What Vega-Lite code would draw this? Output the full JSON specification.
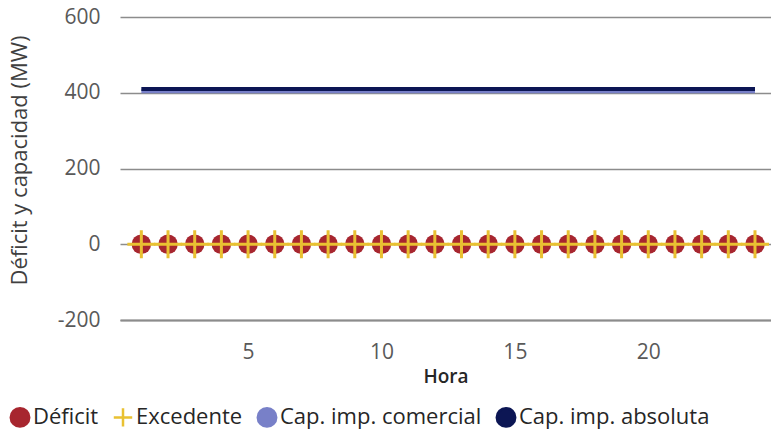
{
  "$schema": "https://vega.github.io/schema/vega-lite/v6.json",
  "autosize": {"type": "none"},
  "width": 651,
  "height": 303,
  "padding": {"left": 120, "top": 17, "right": 0, "bottom": 113},
  "background": "white",
  "config": {
    "view": {"stroke": null},
    "font": "Open Sans",
    "axis": {
      "labelFont": "Open Sans",
      "titleFont": "Open Sans",
      "labelColor": "#595959",
      "titleColor": "#404040",
      "labelFontSize": 21,
      "gridColor": "#8c8c8c",
      "gridWidth": 1.3,
      "ticks": false,
      "domain": false
    },
    "legend": {
      "labelFont": "Open Sans",
      "labelFontSize": 22,
      "labelColor": "#262626",
      "labelLimit": 0,
      "symbolSize": 340,
      "symbolStrokeWidth": 2.5,
      "columnPadding": 9,
      "labelOffset": 2,
      "symbolOpacity": 1
    }
  },
  "data": {
    "values": [
      {"Hora": 1, "serie": "Déficit", "MW": 0}, {"Hora": 2, "serie": "Déficit", "MW": 0}, {"Hora": 3, "serie": "Déficit", "MW": 0}, {"Hora": 4, "serie": "Déficit", "MW": 0},
      {"Hora": 5, "serie": "Déficit", "MW": 0}, {"Hora": 6, "serie": "Déficit", "MW": 0}, {"Hora": 7, "serie": "Déficit", "MW": 0}, {"Hora": 8, "serie": "Déficit", "MW": 0},
      {"Hora": 9, "serie": "Déficit", "MW": 0}, {"Hora": 10, "serie": "Déficit", "MW": 0}, {"Hora": 11, "serie": "Déficit", "MW": 0}, {"Hora": 12, "serie": "Déficit", "MW": 0},
      {"Hora": 13, "serie": "Déficit", "MW": 0}, {"Hora": 14, "serie": "Déficit", "MW": 0}, {"Hora": 15, "serie": "Déficit", "MW": 0}, {"Hora": 16, "serie": "Déficit", "MW": 0},
      {"Hora": 17, "serie": "Déficit", "MW": 0}, {"Hora": 18, "serie": "Déficit", "MW": 0}, {"Hora": 19, "serie": "Déficit", "MW": 0}, {"Hora": 20, "serie": "Déficit", "MW": 0},
      {"Hora": 21, "serie": "Déficit", "MW": 0}, {"Hora": 22, "serie": "Déficit", "MW": 0}, {"Hora": 23, "serie": "Déficit", "MW": 0}, {"Hora": 24, "serie": "Déficit", "MW": 0},
      {"Hora": 1, "serie": "Excedente", "MW": 0}, {"Hora": 2, "serie": "Excedente", "MW": 0}, {"Hora": 3, "serie": "Excedente", "MW": 0}, {"Hora": 4, "serie": "Excedente", "MW": 0},
      {"Hora": 5, "serie": "Excedente", "MW": 0}, {"Hora": 6, "serie": "Excedente", "MW": 0}, {"Hora": 7, "serie": "Excedente", "MW": 0}, {"Hora": 8, "serie": "Excedente", "MW": 0},
      {"Hora": 9, "serie": "Excedente", "MW": 0}, {"Hora": 10, "serie": "Excedente", "MW": 0}, {"Hora": 11, "serie": "Excedente", "MW": 0}, {"Hora": 12, "serie": "Excedente", "MW": 0},
      {"Hora": 13, "serie": "Excedente", "MW": 0}, {"Hora": 14, "serie": "Excedente", "MW": 0}, {"Hora": 15, "serie": "Excedente", "MW": 0}, {"Hora": 16, "serie": "Excedente", "MW": 0},
      {"Hora": 17, "serie": "Excedente", "MW": 0}, {"Hora": 18, "serie": "Excedente", "MW": 0}, {"Hora": 19, "serie": "Excedente", "MW": 0}, {"Hora": 20, "serie": "Excedente", "MW": 0},
      {"Hora": 21, "serie": "Excedente", "MW": 0}, {"Hora": 22, "serie": "Excedente", "MW": 0}, {"Hora": 23, "serie": "Excedente", "MW": 0}, {"Hora": 24, "serie": "Excedente", "MW": 0},
      {"Hora": 1, "serie": "Cap. imp. comercial", "MW": 404}, {"Hora": 2, "serie": "Cap. imp. comercial", "MW": 404}, {"Hora": 3, "serie": "Cap. imp. comercial", "MW": 404}, {"Hora": 4, "serie": "Cap. imp. comercial", "MW": 404},
      {"Hora": 5, "serie": "Cap. imp. comercial", "MW": 404}, {"Hora": 6, "serie": "Cap. imp. comercial", "MW": 404}, {"Hora": 7, "serie": "Cap. imp. comercial", "MW": 404}, {"Hora": 8, "serie": "Cap. imp. comercial", "MW": 404},
      {"Hora": 9, "serie": "Cap. imp. comercial", "MW": 404}, {"Hora": 10, "serie": "Cap. imp. comercial", "MW": 404}, {"Hora": 11, "serie": "Cap. imp. comercial", "MW": 404}, {"Hora": 12, "serie": "Cap. imp. comercial", "MW": 404},
      {"Hora": 13, "serie": "Cap. imp. comercial", "MW": 404}, {"Hora": 14, "serie": "Cap. imp. comercial", "MW": 404}, {"Hora": 15, "serie": "Cap. imp. comercial", "MW": 404}, {"Hora": 16, "serie": "Cap. imp. comercial", "MW": 404},
      {"Hora": 17, "serie": "Cap. imp. comercial", "MW": 404}, {"Hora": 18, "serie": "Cap. imp. comercial", "MW": 404}, {"Hora": 19, "serie": "Cap. imp. comercial", "MW": 404}, {"Hora": 20, "serie": "Cap. imp. comercial", "MW": 404},
      {"Hora": 21, "serie": "Cap. imp. comercial", "MW": 404}, {"Hora": 22, "serie": "Cap. imp. comercial", "MW": 404}, {"Hora": 23, "serie": "Cap. imp. comercial", "MW": 404}, {"Hora": 24, "serie": "Cap. imp. comercial", "MW": 404},
      {"Hora": 1, "serie": "Cap. imp. absoluta", "MW": 410}, {"Hora": 2, "serie": "Cap. imp. absoluta", "MW": 410}, {"Hora": 3, "serie": "Cap. imp. absoluta", "MW": 410}, {"Hora": 4, "serie": "Cap. imp. absoluta", "MW": 410},
      {"Hora": 5, "serie": "Cap. imp. absoluta", "MW": 410}, {"Hora": 6, "serie": "Cap. imp. absoluta", "MW": 410}, {"Hora": 7, "serie": "Cap. imp. absoluta", "MW": 410}, {"Hora": 8, "serie": "Cap. imp. absoluta", "MW": 410},
      {"Hora": 9, "serie": "Cap. imp. absoluta", "MW": 410}, {"Hora": 10, "serie": "Cap. imp. absoluta", "MW": 410}, {"Hora": 11, "serie": "Cap. imp. absoluta", "MW": 410}, {"Hora": 12, "serie": "Cap. imp. absoluta", "MW": 410},
      {"Hora": 13, "serie": "Cap. imp. absoluta", "MW": 410}, {"Hora": 14, "serie": "Cap. imp. absoluta", "MW": 410}, {"Hora": 15, "serie": "Cap. imp. absoluta", "MW": 410}, {"Hora": 16, "serie": "Cap. imp. absoluta", "MW": 410},
      {"Hora": 17, "serie": "Cap. imp. absoluta", "MW": 410}, {"Hora": 18, "serie": "Cap. imp. absoluta", "MW": 410}, {"Hora": 19, "serie": "Cap. imp. absoluta", "MW": 410}, {"Hora": 20, "serie": "Cap. imp. absoluta", "MW": 410},
      {"Hora": 21, "serie": "Cap. imp. absoluta", "MW": 410}, {"Hora": 22, "serie": "Cap. imp. absoluta", "MW": 410}, {"Hora": 23, "serie": "Cap. imp. absoluta", "MW": 410}, {"Hora": 24, "serie": "Cap. imp. absoluta", "MW": 410}
    ]
  },
  "encoding": {
    "x": {
      "field": "Hora", "type": "quantitative",
      "scale": {"domain": [0.2, 24.6], "nice": false, "zero": false},
      "axis": {
        "values": [5, 10, 15, 20], "grid": false, "domain": true, "domainColor": "#8c8c8c", "domainWidth": 2,
        "labelPadding": 21, "title": "Hora", "titleFontSize": 19, "titleFontWeight": 600, "titleColor": "#262626", "titlePadding": 5
      }
    },
    "y": {
      "field": "MW", "type": "quantitative",
      "scale": {"domain": [-200, 600], "nice": false},
      "axis": {
        "values": [-200, 0, 200, 400, 600], "labelPadding": 20, "labelExpr": "'' + datum.value",
        "title": "Déficit y capacidad (MW)", "titleFontSize": 22, "titleFontWeight": "normal", "titleX": -89, "titleY": 143, "titleColor": "#404040"
      }
    },
    "color": {
      "field": "serie", "type": "nominal",
      "scale": {"domain": ["Déficit", "Excedente", "Cap. imp. comercial", "Cap. imp. absoluta"], "range": ["#A7262F", "#E9C132", "#7880C8", "#0C1654"]},
      "legend": {
        "orient": "none", "direction": "horizontal", "legendX": -111, "legendY": 389, "title": null,
        "encode": {
          "symbols": {
            "update": {
              "shape": {"signal": "datum.value == 'Excedente' ? 'M0,-1V1M-1,0H1' : 'circle'"},
              "fill": {"signal": "datum.value == 'Excedente' ? 'transparent' : scale('color', datum.value)"},
              "stroke": {"scale": "color", "field": "value"},
              "strokeWidth": {"value": 2.5},
              "opacity": {"value": 1}
            }
          }
        }
      }
    }
  },
  "layer": [
    {
      "transform": [{"filter": "indexof(datum.serie, 'Cap.') == 0"}],
      "mark": {"type": "line", "strokeWidth": 4},
      "encoding": {"order": {"field": "Hora"}}
    },
    {
      "transform": [{"filter": "datum.serie == 'Déficit'"}],
      "mark": {"type": "point", "filled": true, "shape": "circle", "size": 380, "opacity": 1}
    },
    {
      "transform": [{"filter": "datum.serie == 'Excedente'"}],
      "mark": {"type": "point", "filled": false, "shape": "M0,-1V1M-1,0H1", "size": 784, "strokeWidth": 3, "opacity": 1}
    }
  ]
}
